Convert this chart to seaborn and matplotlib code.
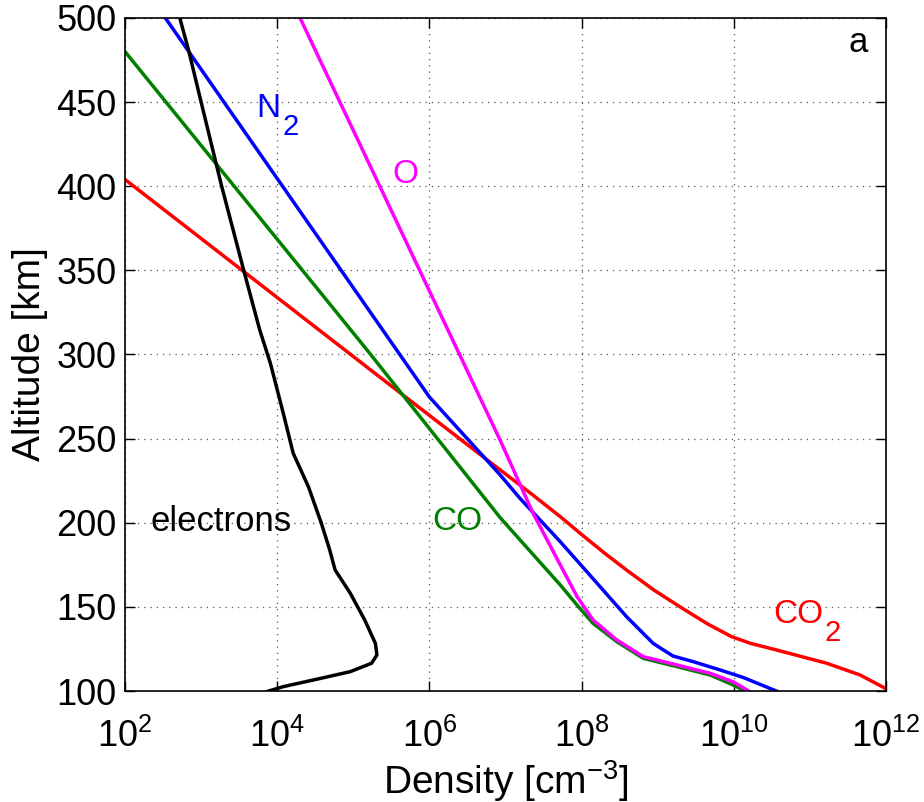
"""
Neutral and electron density profiles vs altitude (panel a).
Output: out.png
"""

import matplotlib
matplotlib.use("Agg")
import matplotlib.pyplot as plt
import matplotlib.ticker as mticker
from matplotlib.transforms import offset_copy
import numpy as np
import pandas as pd
import seaborn as sns

# ── Data: altitude [km] and log10(density [cm^-3]) ────────────────────────────
co2_alt = [404, 308.6, 276, 231.4, 217.5, 203.6, 193, 182, 171.9, 160, 150.1,
           140, 132.3, 128.3, 124.4, 116.5, 109.5, 101.6, 99.0]
co2_logn = [2.0, 4.72, 5.65, 6.93, 7.33, 7.72, 8.0, 8.3, 8.59, 8.95, 9.29,
            9.65, 9.97, 10.22, 10.56, 11.22, 11.66, 11.99, 12.1]

n2_alt = [500, 274.7, 228.4, 214.5, 188.7, 173.9, 144.2, 128.3, 120.8, 117.4,
          112.5, 108.1, 99.6]
n2_logn = [2.53, 6.0, 6.93, 7.19, 7.72, 8.01, 8.59, 8.94, 9.2, 9.47,
           9.82, 10.12, 10.58]

co_alt = [480, 302.7, 203, 163, 150, 140.2, 129.4, 119.4, 114.5, 109.5,
          103.6, 99.6]
co_logn = [2.0, 5.18, 6.93, 7.72, 7.96, 8.15, 8.46, 8.81, 9.25, 9.69,
           9.99, 10.17]

o_alt = [500, 249, 205.8, 174.9, 156.1, 142.2, 130.4, 120.4, 115.5, 110.5,
         105.5, 99.6]
o_logn = [4.30, 6.93, 7.36, 7.72, 7.94, 8.15, 8.46, 8.81, 9.25, 9.69,
          9.99, 10.21]

e_alt = [500, 480, 450, 400, 350, 314.6, 294.8, 265, 241.3, 221.4, 199.7,
         183.8, 172, 158.1, 142.2, 128.3, 121.4, 116.5, 111.5, 107, 102.6,
         99.6]
e_logn = [2.72, 2.84, 3.0, 3.27, 3.56, 3.77, 3.91, 4.08, 4.21, 4.41, 4.58,
          4.69, 4.76, 4.96, 5.15, 5.29, 5.31, 5.24, 4.96, 4.52, 4.08,
          3.86]

SPECIES = ["CO2", "N2", "CO", "O", "electrons"]
COLORS = {"CO2": "#ff0000", "N2": "#0000ff", "CO": "#008000",
          "O": "#ff00ff", "electrons": "#000000"}

XTICKS = [1e2, 1e4, 1e6, 1e8, 1e10, 1e12]
YTICKS = [100, 150, 200, 250, 300, 350, 400, 450, 500]


def build_frame():
    parts = []
    for name, alt, logn in [("CO2", co2_alt, co2_logn), ("N2", n2_alt, n2_logn),
                            ("CO", co_alt, co_logn), ("O", o_alt, o_logn),
                            ("electrons", e_alt, e_logn)]:
        parts.append(pd.DataFrame({"species": name,
                                   "altitude": alt,
                                   "density": np.power(10.0, logn)}))
    return pd.concat(parts, ignore_index=True)


def label_with_sub(ax, fig, x, y, base, sub, color, base_em):
    """MATLAB-style label: large subscript dropped well below the baseline."""
    size = 24
    ax.text(x, y, base, color=color, fontsize=size, ha="left", va="baseline")
    trans = offset_copy(ax.transData, fig=fig, x=base_em * size + 1.0,
                        y=-13.0, units="points")
    ax.text(x, y, sub, color=color, fontsize=21, ha="left", va="baseline",
            transform=trans)


def main():
    sns.set_style("ticks")
    plt.rcParams["font.family"] = ["Liberation Sans", "DejaVu Sans"]
    plt.rcParams["mathtext.default"] = "regular"
    for key in ("text.color", "axes.labelcolor", "xtick.color", "ytick.color"):
        plt.rcParams[key] = "black"

    df = build_frame()

    fig = plt.figure(figsize=(9.24, 8.02), dpi=100)
    ax = fig.add_axes([0.1353, 0.1384, 0.8236, 0.8392])

    sns.lineplot(data=df, x="density", y="altitude", hue="species",
                 hue_order=SPECIES, palette=COLORS, sort=False,
                 estimator=None, legend=False, linewidth=2.5, ax=ax)

    ax.set_xscale("log")
    ax.set_xlim(1e2, 1e12)
    ax.set_ylim(100, 500)
    ax.xaxis.set_major_locator(mticker.FixedLocator(XTICKS))
    ax.xaxis.set_minor_locator(mticker.NullLocator())
    ax.set_yticks(YTICKS)

    # MATLAB-like box with inward ticks and dotted grid
    ax.grid(True, linestyle=(0, (1, 4)), color="#555555", linewidth=0.9)
    ax.tick_params(direction="in", top=True, right=True, length=7,
                   width=1.0, labelsize=26)
    ax.tick_params(axis="x", pad=20)
    ax.tick_params(axis="y", pad=6)
    for spine in ax.spines.values():
        spine.set_visible(True)
        spine.set_linewidth(1.2)
        spine.set_color("black")

    ax.set_xlabel(r"Density [cm$^{-3}$]", fontsize=28, labelpad=2)
    ax.set_ylabel("Altitude [km]", fontsize=28, labelpad=6)

    # Curve labels
    label_with_sub(ax, fig, 10**3.73, 441, "N", "2", "#0000ff", 0.722)
    label_with_sub(ax, fig, 10**10.52, 140.6, "CO", "2", "#ff0000", 1.5)
    ax.text(10**5.68, 406.7, "O", color="#ff00ff", fontsize=24,
            ha="center", va="center")
    ax.text(10**3.26, 200.5, "electrons", color="black", fontsize=25,
            ha="center", va="center")
    ax.text(10**6.36, 200.5, "CO", color="#008000", fontsize=24,
            ha="center", va="center")
    ax.text(0.963, 0.963, "a", transform=ax.transAxes, fontsize=25,
            ha="center", va="center")

    fig.savefig("out.png", dpi=100)
    plt.close(fig)


if __name__ == "__main__":
    main()
